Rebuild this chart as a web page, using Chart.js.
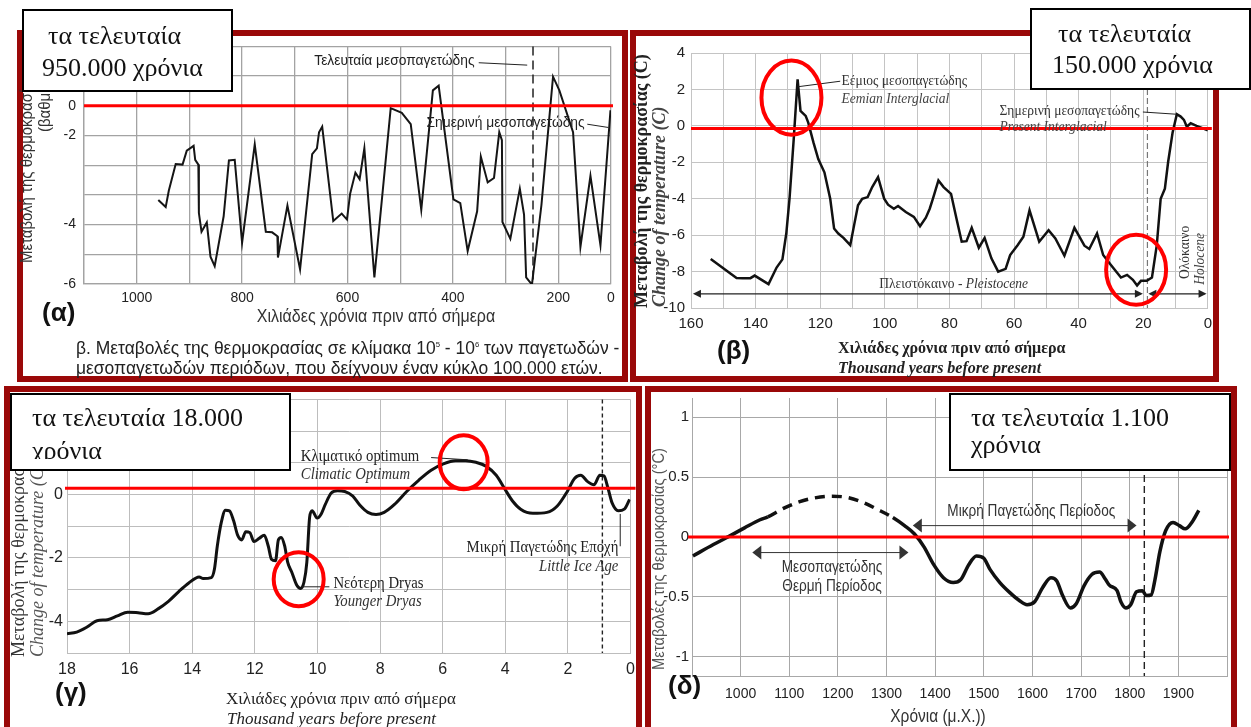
<!DOCTYPE html>
<html>
<head>
<meta charset="utf-8">
<script src="https://cdn.jsdelivr.net/npm/chart.js@4.4.1/dist/chart.umd.min.js"></script>
<style>
  html, body { margin: 0; padding: 0; }
  body { position: relative; width: 1251px; height: 727px; overflow: hidden; background: #fff; }
  canvas { position: absolute; z-index: 0; }
  .frame { position: absolute; box-sizing: border-box; border: 6px solid #9a0808; z-index: 1; }
  .lbl { position: absolute; white-space: nowrap; line-height: 1; z-index: 2; }
  .box { position: absolute; box-sizing: border-box; background: #fff; border: 2px solid #000; overflow: hidden; z-index: 3; }
  .box div { position: absolute; white-space: nowrap; font-family: "Liberation Serif", "Times New Roman", serif; font-size: 26px; line-height: 26px; color: #111; overflow: hidden; }
</style>
</head>
<body>
<canvas id="alpha" width="611" height="352" style="left:17px;top:30px"></canvas>
<canvas id="beta" width="589" height="352" style="left:630px;top:30px"></canvas>
<canvas id="gamma" width="638" height="341" style="left:4px;top:386px"></canvas>
<canvas id="delta" width="592" height="341" style="left:645px;top:386px"></canvas>

<div class="frame" style="left:17px;top:30px;width:611px;height:352px"></div>
<div class="frame" style="left:630px;top:30px;width:589px;height:352px"></div>
<div class="frame" style="left:4px;top:386px;width:638px;height:360px"></div>
<div class="frame" style="left:645px;top:386px;width:592px;height:360px"></div>

<script>
const SANS = '"Liberation Sans", Arial, sans-serif';
const SERIF = '"Liberation Serif", "Times New Roman", serif';

// (α) τα τελευταία 950.000 χρόνια (x σε μονάδες του πλέγματος του πρωτοτύπου)
const alphaX = [959,945,939,926,913,905,892,889,883,882,877,867,860,852,835,825,814,800,776,755,
  743,733,732,714,690,667,658,654,648,627,611,601,595,585,577,568,549,518,497,480,
  460,438,427,399,386,372,354,347,334,322,312,307,306,291,273,265,261,250,232,210,
  198,172,158,139,120,101];
const alphaY = [-3.17,-3.41,-2.85,-1.96,-1.98,-1.51,-1.35,-1.82,-1.98,-3.61,-4.24,-3.93,-5.08,-5.40,-3.72,-1.84,-1.82,-4.61,-1.30,-4.24,
  -4.26,-4.39,-5.11,-3.36,-5.51,-1.63,-1.43,-0.89,-0.70,-3.88,-3.63,-3.83,-2.96,-2.25,-2.47,-1.43,-5.78,-0.08,-0.24,-0.62,
  -3.50,0.52,0.68,-3.15,-3.28,-4.89,-3.55,-1.71,-2.58,-2.43,-0.89,-1.16,-3.91,-4.48,-2.79,-3.66,-5.78,-6.02,-3.34,0.98,
  0.52,-0.89,-4.75,-2.36,-4.70,-0.15];
const alphaXGrid = [1100,1000,900,800,700,600,500,400,300,200,100];
const alphaXLabelAt = [1000,800,600,400,200,100];
const alphaXLabels = ['1000','800','600','400','200','0'];
const alphaYGrid = [2,1,0,-1,-2,-3,-4,-5,-6];
const alphaYLabelAt = [0,-1,-4,-6];
const alphaYLabels = ['0','-2','-4','-6'];

// (β) τα τελευταία 150.000 χρόνια
const betaX = [153.9,145.9,144.0,141.6,140.3,136.0,133.5,131.7,130.5,129.5,128.2,127.0,126.1,124.5,123.7,122.1,120.6,118.7,116.9,115.7,
  114.4,112.8,110.7,109.5,108.3,107.0,105.3,103.9,102.1,100.2,99.0,97.2,95.9,93.5,91.0,89.1,87.3,86.1,85.1,83.4,
  81.8,79.5,77.7,76.2,74.7,73.1,70.9,69.1,67.0,64.9,62.6,61.2,58.9,57.1,55.2,52.2,49.3,47.2,44.4,41.3,
  38.2,36.7,34.3,32.4,30.0,26.9,25.0,23.2,21.9,20.7,18.9,17.3,15.8,14.6,13.3,12.3,10.9,9.6,8.4,7.4,6.5,5.3,3.5,0];
const betaY = [-7.31,-8.35,-8.36,-8.36,-8.22,-8.69,-7.78,-7.33,-5.91,-4.0,-0.73,2.55,0.82,0.55,0.18,-0.91,-1.82,-2.55,-4.0,-5.64,
  -5.91,-6.15,-6.55,-5.45,-4.36,-4.0,-3.91,-3.36,-2.82,-4.0,-4.33,-4.55,-4.40,-4.73,-5.0,-5.51,-5.04,-4.55,-4.0,-3.0,
  -3.36,-3.73,-5.18,-6.36,-6.33,-5.6,-6.69,-6.15,-7.27,-8.0,-7.85,-7.09,-6.55,-6.09,-4.64,-6.36,-5.73,-6.18,-7.13,-5.6,
  -6.58,-6.76,-5.91,-7.09,-7.64,-8.33,-8.18,-8.45,-8.76,-8.51,-8.51,-8.33,-6.55,-4.0,-3.45,-2.0,-0.36,0.64,0.51,0.33,-0.05,0.15,0.0,-0.24];
const betaXGrid = [160,150,140,130,120,110,100,90,80,70,60,50,40,30,20,10,0];
const betaXLabelAt = [160,140,120,100,80,60,40,20,0];
const betaXLabels = ['160','140','120','100','80','60','40','20','0'];
const betaYGrid = [4,2,0,-2,-4,-6,-8,-10];
const betaYLabels = ['4','2','0','-2','-4','-6','-8','-10'];

// (γ) τα τελευταία 18.000 χρόνια
const gammaX = [18.0,17.69,17.36,17.04,16.71,16.39,16.06,15.73,15.41,15.08,14.76,14.43,14.11,13.78,13.65,13.39,13.29,13.20,13.07,12.94,
  12.81,12.68,12.55,12.42,12.29,12.16,12.03,11.86,11.70,11.57,11.47,11.34,11.25,11.16,11.05,10.95,10.82,10.66,10.53,10.43,
  10.34,10.25,10.17,10.01,9.88,9.75,9.56,9.36,9.13,8.87,8.65,8.39,8.13,7.87,7.54,7.15,6.76,6.37,5.98,5.59,
  5.27,4.94,4.62,4.29,4.03,3.77,3.51,3.12,2.67,2.34,2.02,1.79,1.59,1.37,1.17,0.98,0.85,0.72,0.59,0.39,0.20,0.03];
const gammaY = [-4.39,-4.34,-4.18,-3.98,-3.95,-3.83,-3.71,-3.73,-3.76,-3.60,-3.37,-3.06,-2.79,-2.60,-2.65,-2.62,-2.35,-1.63,-0.87,-0.49,
  -0.51,-0.82,-1.28,-1.43,-1.17,-1.20,-1.48,-1.38,-1.28,-1.63,-2.04,-2.09,-1.43,-1.35,-1.61,-2.14,-2.45,-2.86,-2.96,-2.76,
  -2.14,-0.71,-0.51,-0.74,-0.61,-0.31,0.05,0.12,0.10,-0.05,-0.33,-0.56,-0.63,-0.56,-0.31,0.10,0.46,0.77,0.97,1.07,
  1.07,1.02,0.90,0.61,0.20,-0.20,-0.46,-0.59,-0.56,-0.36,0.10,0.51,0.61,0.41,0.31,0.61,0.59,0.20,-0.26,-0.51,-0.46,-0.15];
const gammaXGrid = [18,16,14,12,10,8,6,4,2,0];
const gammaXLabels = ['18','16','14','12','10','8','6','4','2','0'];
const gammaYGrid = [3,2,1,0,-1,-2,-3,-4,-5];
const gammaYLabelAt = [0,-2,-4];
const gammaYLabels = ['0','-2','-4'];

// (δ) τα τελευταία 1.100 χρόνια
const deltaX = [902,944,976,1008,1040,1056,1088,1120,1152,1184,1217,1249,1281,1313,1337,1357,1377,1397,1417,1437,
  1453,1469,1485,1500,1513,1533,1553,1573,1589,1605,1621,1638,1650,1662,1678,1690,1706,1722,1738,1750,
  1758,1774,1782,1792,1802,1814,1826,1834,1844,1852,1862,1874,1889,1902,1914,1930,1942];
const deltaY = [-0.158,-0.063,0.005,0.076,0.144,0.168,0.239,0.293,0.326,0.340,0.332,0.293,0.231,0.163,0.095,0.027,-0.082,-0.231,-0.340,-0.380,
  -0.353,-0.231,-0.158,-0.177,-0.272,-0.380,-0.462,-0.530,-0.565,-0.538,-0.421,-0.340,-0.367,-0.489,-0.592,-0.557,-0.408,-0.313,-0.293,-0.353,
  -0.402,-0.448,-0.543,-0.592,-0.565,-0.457,-0.448,-0.489,-0.484,-0.353,-0.122,0.054,0.122,0.095,0.068,0.136,0.223];
const deltaDashFrom = 1056, deltaDashTo = 1313;   // αβέβαιο τμήμα (διακεκομμένο)
const deltaXGrid = [900,1000,1100,1200,1300,1400,1500,1600,1700,1800,1900,2000];
const deltaXLabelAt = [1000,1100,1200,1300,1400,1500,1600,1700,1800,1900];
const deltaXLabels = ['1000','1100','1200','1300','1400','1500','1600','1700','1800','1900'];
const deltaYGrid = [1,0.5,0,-0.5,-1];
const deltaYLabels = ['1','0.5','0','-0.5','-1'];

const pts = (xs, ys) => xs.map((x, i) => ({ x, y: ys[i] }));
const labeller = (at, texts) => v => { const i = at.indexOf(v); return i < 0 ? '' : texts[i]; };

// σημειώσεις πάνω στο διάγραμμα (γραμμή μηδέν, κύκλοι, βέλη, κείμενα)
function notes(spec) {
  return {
    id: 'notes',
    beforeDatasetsDraw(chart) {
      const { ctx, chartArea: a, scales: { x } } = chart;
      (spec.vlines || []).forEach(v => {
        const px = x.getPixelForValue(v.x);
        ctx.save();
        ctx.strokeStyle = v.color; ctx.lineWidth = v.width; ctx.setLineDash(v.dash);
        ctx.beginPath(); ctx.moveTo(px, a.top); ctx.lineTo(px, a.bottom); ctx.stroke();
        ctx.restore();
      });
    },
    afterDatasetsDraw(chart) {
      const { ctx, chartArea: a, scales: { x, y } } = chart;
      const P = (vx, vy) => [x.getPixelForValue(vx), y.getPixelForValue(vy)];
      ctx.save();
      if (spec.zero) {
        const py = y.getPixelForValue(spec.zero.y);
        ctx.strokeStyle = '#ff0000'; ctx.lineWidth = 3;
        ctx.beginPath(); ctx.moveTo(a.left - spec.zero.ext[0], py); ctx.lineTo(a.right + spec.zero.ext[1], py); ctx.stroke();
      }
      ctx.strokeStyle = '#222'; ctx.lineWidth = 1;
      (spec.leaders || []).forEach(l => {
        ctx.beginPath();
        l.forEach((p, i) => { const [px, py] = P(p[0], p[1]); i ? ctx.lineTo(px, py) : ctx.moveTo(px, py); });
        ctx.stroke();
      });
      (spec.arrows || []).forEach(r => {
        const [x1, py] = P(r.x1, r.y);
        const x2 = x.getPixelForValue(r.x2);
        const lo = Math.min(x1, x2), hi = Math.max(x1, x2);
        const [L, H] = r.head;
        ctx.strokeStyle = r.color; ctx.fillStyle = r.color; ctx.lineWidth = r.width;
        ctx.beginPath(); ctx.moveTo(lo + 2, py); ctx.lineTo(hi - 2, py); ctx.stroke();
        ctx.beginPath(); ctx.moveTo(lo, py); ctx.lineTo(lo + L, py - H); ctx.lineTo(lo + L, py + H); ctx.closePath(); ctx.fill();
        ctx.beginPath(); ctx.moveTo(hi, py); ctx.lineTo(hi - L, py - H); ctx.lineTo(hi - L, py + H); ctx.closePath(); ctx.fill();
      });
      (spec.rings || []).forEach(e => {
        const [px, py] = P(e.x, e.y);
        ctx.strokeStyle = '#f00'; ctx.lineWidth = 4;
        ctx.beginPath(); ctx.ellipse(px, py, e.rx, e.ry, 0, 0, Math.PI * 2); ctx.stroke();
      });
      (spec.texts || []).forEach(t => {
        const [px, py] = P(t.x, t.y);
        ctx.save();
        ctx.translate(px, py);
        if (t.rot) ctx.rotate(t.rot * Math.PI / 180);
        ctx.scale(spec.sx || 1, 1);
        ctx.textBaseline = 'middle'; ctx.textAlign = 'left'; ctx.fillStyle = t.color || '#222';
        let w = 0;
        t.parts.forEach(([s, f]) => { ctx.font = f; w += ctx.measureText(s).width; });
        let cx = t.align === 'center' ? -w / 2 : t.align === 'right' ? -w : 0;
        t.parts.forEach(([s, f]) => { ctx.font = f; ctx.fillText(s, cx, 0); cx += ctx.measureText(s).width; });
        ctx.restore();
      });
      ctx.restore();
    }
  };
}

function axis(o) {
  return {
    type: 'linear', min: o.min, max: o.max, reverse: !!o.reverse,
    afterBuildTicks: s => { s.ticks = o.grid.map(v => ({ value: v })); },
    afterFit: s => { if (o.w != null) s.width = o.w; if (o.h != null) s.height = o.h; },
    grid: { color: o.gridColor, lineWidth: o.gridWidth || 1, drawTicks: false },
    border: { color: o.gridColor, width: o.gridWidth || 1 },
    ticks: {
      padding: o.pad, color: '#222', autoSkip: false, maxRotation: 0,
      font: { family: SANS, size: o.size },
      callback: labeller(o.labelAt, o.labels)
    }
  };
}

// canvas: θέση του καμβά στη σελίδα, plot: επιθυμητή περιοχή διαγράμματος
function panel(id, canvas, plot, line, xs, ys, spec) {
  const W = 40, H = 30;
  return new Chart(document.getElementById(id), {
    type: 'line',
    data: { datasets: [Object.assign({ data: pts(line.x, line.y), pointRadius: 0, fill: false }, line.style)] },
    options: {
      responsive: false, animation: false, events: [],
      layout: {
        autoPadding: false,
        padding: { left: plot.l - canvas.l - W, top: plot.t - canvas.t, right: canvas.r - plot.r, bottom: canvas.b - plot.b - H }
      },
      plugins: { legend: { display: false }, tooltip: { enabled: false } },
      scales: { x: axis(Object.assign({ h: H }, xs)), y: axis(Object.assign({ w: W }, ys)) }
    },
    plugins: [notes(spec)]
  });
}

// ---------- (α)
panel('alpha', { l: 17, t: 30, r: 628, b: 382 }, { l: 84, t: 38, r: 611, b: 284 },
  { x: alphaX, y: alphaY, style: { borderColor: '#151515', borderWidth: 2, tension: 0 } },
  { min: 100, max: 1100, reverse: true, grid: alphaXGrid, labelAt: alphaXLabelAt, labels: alphaXLabels,
    gridColor: '#a3a3a3', gridWidth: 1.3, pad: 6, size: 14 },
  { min: -6, max: 2, grid: alphaYGrid, labelAt: alphaYLabelAt, labels: alphaYLabels,
    gridColor: '#a3a3a3', gridWidth: 1.3, pad: 8, size: 14 },
  {
    sx: 0.92,
    zero: { y: 0, ext: [0, 2] },
    vlines: [{ x: 248, color: '#222', width: 1.5, dash: [9, 5] }],
    leaders: [[[351, 1.45], [259, 1.37]], [[145, -0.62], [105, -0.73]]],
    texts: [
      { x: 663, y: 1.5, parts: [['Τελευταία μεσοπαγετώδης', '15px ' + SANS]], color: '#222' },
      { x: 450, y: -0.59, parts: [['Σημερινή μεσοπαγετώδης', '15px ' + SANS]], color: '#222' }
    ]
  });

// ---------- (β)
const sb = 'italic 15px ' + SERIF, sn = '15px ' + SERIF;
panel('beta', { l: 630, t: 30, r: 1219, b: 382 }, { l: 691, t: 53, r: 1211, b: 308 },
  { x: betaX, y: betaY, style: { borderColor: '#111', borderWidth: 2.5, tension: 0 } },
  { min: 0, max: 160, reverse: true, grid: betaXGrid, labelAt: betaXLabelAt, labels: betaXLabels,
    gridColor: '#c4c4c4', pad: 7, size: 15 },
  { min: -10, max: 4, grid: betaYGrid, labelAt: betaYGrid, labels: betaYLabels,
    gridColor: '#c4c4c4', pad: 6, size: 15 },
  {
    sx: 0.9,
    zero: { y: -0.15, ext: [0, 4] },
    vlines: [{ x: 18.7, color: '#777', width: 1.2, dash: [6, 3] }],
    leaders: [[[126.8, 2.15], [113.8, 2.45]], [[20.1, 0.76], [9.9, 0.64]]],
    arrows: [
      { x1: 159.4, x2: 20.1, y: -9.22, head: [8, 4], color: '#222', width: 1.3 },
      { x1: 18.4, x2: 0.4, y: -9.22, head: [8, 4], color: '#222', width: 1.3 }
    ],
    rings: [{ x: 128.9, y: 1.55, rx: 30, ry: 37 }, { x: 22.2, y: -7.9, rx: 30, ry: 35 }],
    texts: [
      { x: 113.4, y: 2.45, parts: [['Εέμιος μεσοπαγετώδης', sn]], color: '#333' },
      { x: 113.4, y: 1.45, parts: [['Eemian Interglacial', sb]], color: '#444' },
      { x: 64.5, y: 0.82, parts: [['Σημερινή μεσοπαγετώδης', sn]], color: '#333' },
      { x: 64.5, y: -0.09, parts: [['Present Interglacial', sb]], color: '#444' },
      { x: 78.7, y: -8.69, align: 'center', parts: [['Πλειστόκαινο - ', sn], ['Pleistocene', sb]], color: '#333' },
      { x: 7.2, y: -6.95, rot: -90, align: 'center', parts: [['Ολόκαινο', sn]], color: '#333' },
      { x: 2.3, y: -7.3, rot: -90, align: 'center', parts: [['Holocene', sb]], color: '#444' }
    ]
  });

// ---------- (γ)
const gn = '16px ' + SERIF, gi = 'italic 16px ' + SERIF;
panel('gamma', { l: 4, t: 386, r: 642, b: 727 }, { l: 67, t: 392, r: 633, b: 653 },
  { x: gammaX, y: gammaY, style: { borderColor: '#111', borderWidth: 3, tension: 0.4, cubicInterpolationMode: 'monotone' } },
  { min: 0, max: 18, reverse: true, grid: gammaXGrid, labelAt: gammaXGrid, labels: gammaXLabels,
    gridColor: '#bdbdbd', pad: 7, size: 16 },
  { min: -5, max: 3, grid: gammaYGrid, labelAt: gammaYLabelAt, labels: gammaYLabels,
    gridColor: '#bdbdbd', pad: 4, size: 16 },
  {
    sx: 0.92,
    zero: { y: 0.2, ext: [2, 5] },
    vlines: [{ x: 0.9, color: '#222', width: 1.4, dash: [4, 3] }],
    leaders: [[[6.37, 1.17], [5.2, 1.1]], [[10.5, -2.91], [9.62, -2.91]], [[0.33, -0.61], [0.33, -1.63]]],
    rings: [{ x: 5.33, y: 1.02, rx: 24, ry: 27 }, { x: 10.6, y: -2.67, rx: 25, ry: 27 }],
    texts: [
      { x: 10.53, y: 1.2, parts: [['Κλιματικό optimum', gn]], color: '#222' },
      { x: 10.53, y: 0.63, parts: [['Climatic Optimum', gi]], color: '#333' },
      { x: 9.49, y: -2.81, parts: [['Νεότερη Dryas', gn]], color: '#222' },
      { x: 9.49, y: -3.37, parts: [['Younger Dryas', gi]], color: '#333' },
      { x: 0.39, y: -1.68, align: 'right', parts: [['Μικρή Παγετώδης Εποχή', gn]], color: '#222' },
      { x: 0.39, y: -2.27, align: 'right', parts: [['Little Ice Age', gi]], color: '#333' }
    ]
  });

// ---------- (δ)
const dn = '17px ' + SANS;
panel('delta', { l: 645, t: 386, r: 1237, b: 727 }, { l: 692, t: 392, r: 1230, b: 676 },
  { x: deltaX, y: deltaY, style: {
      borderColor: '#111', borderWidth: 3.5, tension: 0.4, cubicInterpolationMode: 'monotone', borderCapStyle: 'butt',
      segment: { borderDash: c => (c.p0.parsed.x >= deltaDashFrom && c.p1.parsed.x <= deltaDashTo) ? [10, 7] : undefined }
  } },
  { min: 900, max: 2000, grid: deltaXGrid, labelAt: deltaXLabelAt, labels: deltaXLabels,
    gridColor: '#a8a8a8', pad: 10, size: 14 },
  { min: -1.16, max: 1.16, grid: deltaYGrid, labelAt: deltaYGrid, labels: deltaYLabels,
    gridColor: '#a8a8a8', pad: 3, size: 15 },
  {
    sx: 0.8,
    zero: { y: 0, ext: [4, 2] },
    vlines: [{ x: 1830, color: '#222', width: 1.4, dash: [7, 4] }],
    arrows: [
      { x1: 1354, x2: 1814, y: 0.095, head: [9, 7], color: '#333', width: 1 },
      { x1: 1024, x2: 1345, y: -0.13, head: [9, 7], color: '#333', width: 1 }
    ],
    texts: [
      { x: 1425, y: 0.217, parts: [['Μικρή Παγετώδης Περίοδος', dn]], color: '#333' },
      { x: 1188, y: -0.25, align: 'center', parts: [['Μεσοπαγετώδης', dn]], color: '#333' },
      { x: 1188, y: -0.408, align: 'center', parts: [['Θερμή Περίοδος', dn]], color: '#333' }
    ]
  });

// ---------- στατικά κείμενα (τίτλοι αξόνων, λεζάντες)
function label(html, x, y, font, color, align, sx) {
  const d = document.createElement('div');
  d.className = 'lbl';
  d.innerHTML = html;
  d.style.font = font; d.style.color = color;
  d.style.left = x + 'px'; d.style.top = y + 'px';
  const tx = align === 'center' ? '-50%' : align === 'right' ? '-100%' : '0';
  d.style.transformOrigin = (align === 'center' ? '50%' : align === 'right' ? '100%' : '0') + ' 50%';
  d.style.transform = `translate(${tx}, -50%) scaleX(${sx || 1})`;
  document.body.appendChild(d);
}
function vlabel(text, cx, bottom, font, color, sx) {
  const d = document.createElement('div');
  d.className = 'lbl';
  d.textContent = text;
  d.style.font = font; d.style.color = color;
  d.style.left = cx + 'px'; d.style.top = bottom + 'px';
  d.style.transformOrigin = '0 0';
  d.style.transform = `rotate(-90deg) translateY(-50%) scaleX(${sx || 1})`;
  document.body.appendChild(d);
}

// (α)
vlabel('Μεταβολή της θερμοκρασίας', 27, 263, '17px ' + SANS, '#333', 0.88);
vlabel('(βαθμοί C)', 45, 132, '17px ' + SANS, '#333', 0.88);
label('(α)', 42, 312, 'bold 26px ' + SANS, '#111');
label('Χιλιάδες χρόνια πριν από σήμερα', 376, 316, '18px ' + SANS, '#333', 'center', 0.89);
label('β. Μεταβολές της θερμοκρασίας σε κλίμακα 10<sup style="font-size:8px">5</sup> - 10<sup style="font-size:8px">6</sup> των παγετωδών -', 76, 348, '18px ' + SANS, '#222', 'left', 0.97);
label('μεσοπαγετωδών περιόδων, που δείχνουν έναν κύκλο 100.000 ετών.', 76, 368, '18px ' + SANS, '#222', 'left', 0.97);

// (β)
vlabel('Μεταβολή της θερμοκρασίας (C)', 641, 308, 'bold 18px ' + SERIF, '#222');
vlabel('Change of temperature (C)', 659, 307, 'bold italic 18px ' + SERIF, '#444');
label('Χιλιάδες χρόνια πριν από σήμερα', 838, 348, 'bold 16px ' + SERIF, '#222');
label('Thousand years before present', 838, 368, 'bold italic 16px ' + SERIF, '#222');
label('(β)', 717, 350, 'bold 26px ' + SANS, '#111');

// (γ)
vlabel('Μεταβολή της θερμοκρασίας (C)', 18, 657, '18px ' + SERIF, '#333');
vlabel('Change of temperature (C)', 37, 657, 'italic 18px ' + SERIF, '#555');
label('Χιλιάδες χρόνια πριν από σήμερα', 341, 699, '17px ' + SERIF, '#222', 'center');
label('Thousand years before present', 227, 719, 'italic 17px ' + SERIF, '#222');
label('(γ)', 55, 692, 'bold 26px ' + SANS, '#111');

// (δ)
vlabel('Μεταβολές της θερμοκρασίας (°C)', 659, 670, '16px ' + SANS, '#555', 0.92);
label('Χρόνια (μ.Χ.))', 938, 716, '18px ' + SANS, '#333', 'center', 0.86);
label('(δ)', 668, 685, 'bold 26px ' + SANS, '#111');

// ---------- πλαίσια τίτλων
function box(l, t, w, h, lines) {
  const b = document.createElement('div');
  b.className = 'box';
  Object.assign(b.style, { left: l + 'px', top: t + 'px', width: w + 'px', height: h + 'px' });
  lines.forEach(([text, x, base, clip]) => {
    const d = document.createElement('div');
    d.textContent = text;
    const top = base - 0.8375 * 26;
    d.style.left = (x - l - 2) + 'px';
    d.style.top = (top - t - 2) + 'px';
    if (clip) d.style.height = (clip - top) + 'px';
    b.appendChild(d);
  });
  document.body.appendChild(b);
}
box(22, 9, 211, 83, [['τα τελευταία', 48, 45], ['950.000 χρόνια', 42, 77]]);
box(1030, 8, 221, 82, [['τα τελευταία', 1058, 43], ['150.000 χρόνια', 1052, 74]]);
box(10, 393, 281, 78, [['τα τελευταία 18.000', 32, 427], ['χρόνια', 32, 460, 459]]);
box(949, 393, 282, 78, [['τα τελευταία 1.100', 971, 427], ['χρόνια', 971, 454]]);
</script>
</body>
</html>
